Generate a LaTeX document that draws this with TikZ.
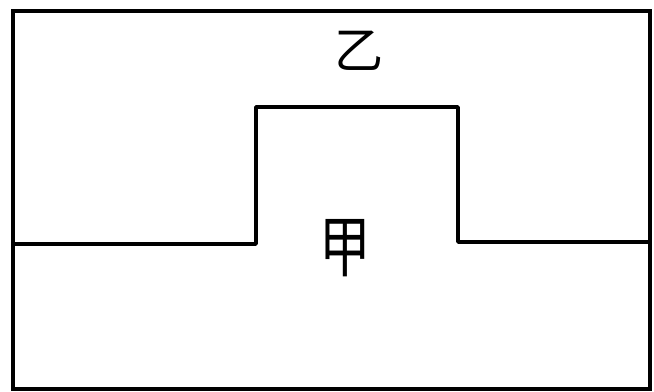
\documentclass[tikz,border=0pt]{standalone}
\usepackage{fontspec}
\newfontfamily\cjk{Noto Sans CJK SC}

\begin{document}
\begin{tikzpicture}[x=0.03cm, y=-0.03cm]

\useasboundingbox (0,0) rectangle (654,391);

\draw[line width=3pt] (13,11) rectangle (650,389);

\draw[line width=3.2pt, line join=round] (13,244) -- (256,244) -- (256,107) -- (458,107) -- (458,242) -- (650,242);

\node[name=yi, font=\cjk\fontsize{42}{48}\selectfont] at (359,51) {乙};

\node[name=jia, font=\cjk\fontsize{44}{50}\selectfont, yscale=1.3] at (345,248) {甲};

\end{tikzpicture}
\end{document}
